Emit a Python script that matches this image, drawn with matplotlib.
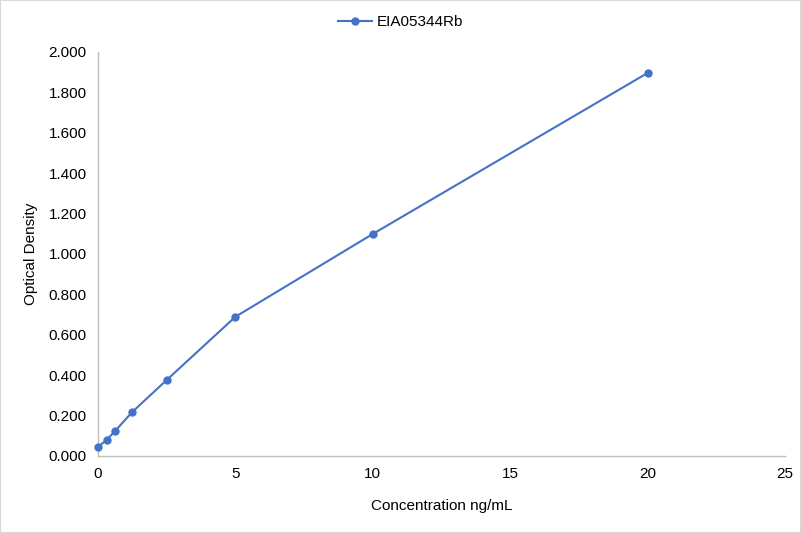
import matplotlib
matplotlib.use('Agg')
import matplotlib.pyplot as plt
from matplotlib.ticker import FormatStrFormatter

plt.rcParams['font.family'] = ['Liberation Sans', 'DejaVu Sans']

# standard curve
conc = [0, 0.312, 0.625, 1.25, 2.5, 5, 10, 20]
od = [0.045, 0.079, 0.124, 0.218, 0.376, 0.689, 1.099, 1.896]
series_name = 'EIA05344Rb'

fig = plt.figure(figsize=(8.01, 5.33), dpi=100)
fig.patches.append(plt.Rectangle((0, 0), 1, 1, transform=fig.transFigure,
                                 fill=False, edgecolor='#d9d9d9', linewidth=1.5))
ax = fig.add_axes([0.1223, 0.1445, 0.8577, 0.758])

ax.plot(conc, od, color='#4472C4', linewidth=1.5, marker='o', markersize=5,
        label=series_name, clip_on=False, zorder=3)

ax.set_xlim(0, 25)
ax.set_ylim(0, 2.0)
ax.set_xticks([0, 5, 10, 15, 20, 25])
ax.set_yticks([0, 0.2, 0.4, 0.6, 0.8, 1.0, 1.2, 1.4, 1.6, 1.8, 2.0])
ax.yaxis.set_major_formatter(FormatStrFormatter('%.3f'))
ax.tick_params(length=0, labelsize=11, colors='#000000', pad=8)

for s in ['top', 'right']:
    ax.spines[s].set_visible(False)
for s in ['left', 'bottom']:
    ax.spines[s].set_color('#bfbfbf')
    ax.spines[s].set_linewidth(1)

ax.set_xlabel('Concentration ng/mL', fontsize=11, labelpad=13)
ax.set_ylabel('Optical Density', fontsize=11, labelpad=8)

handles, labels = ax.get_legend_handles_labels()
fig.legend(handles, labels, loc='center', bbox_to_anchor=(0.5, 0.958),
           frameon=False, fontsize=11, handlelength=2.2, handletextpad=0.3)

fig.savefig('out.png', dpi=100)
